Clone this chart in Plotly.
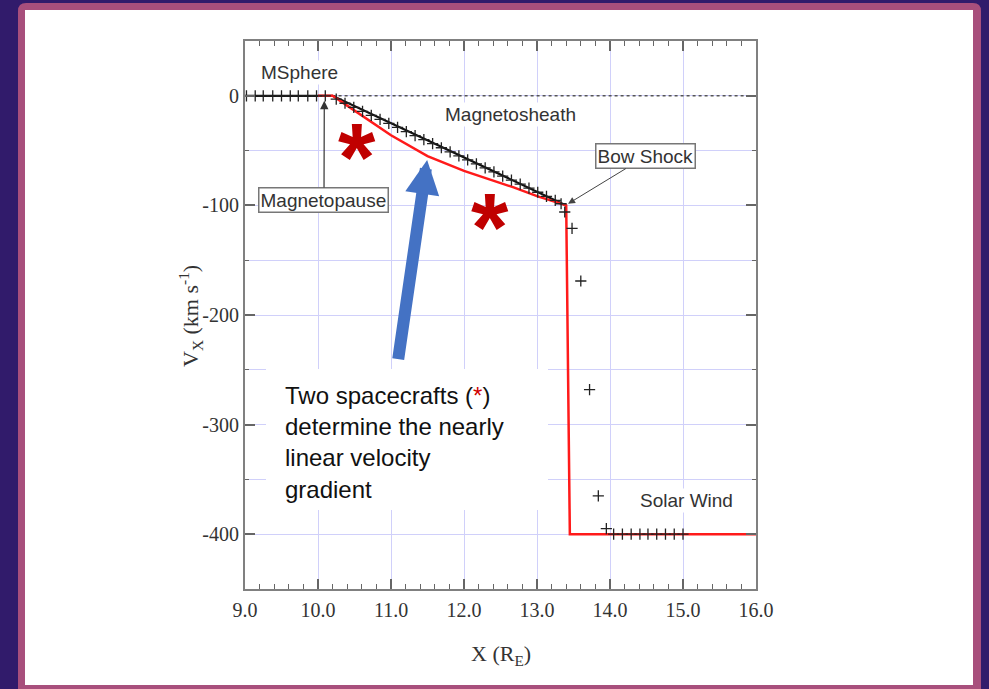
import plotly.graph_objects as go

# ---------------- data ----------------
# observed velocity samples ("+")
msphere_x = [9.02, 9.14, 9.25, 9.38, 9.50, 9.62, 9.73, 9.86, 9.98, 10.10]
msphere_v = [0, 0, 0, 0, 0, 0, 0, 0, 0, 0]

sheath_x = [10.25, 10.37, 10.49, 10.61, 10.73, 10.85, 10.97, 11.09, 11.21, 11.33,
            11.45, 11.57, 11.69, 11.81, 11.93, 12.05, 12.17, 12.29, 12.41, 12.53,
            12.65, 12.77, 12.89, 13.01, 13.13, 13.25, 13.33]
sheath_v = [-3.1, -6.8, -10.5, -14.2, -17.8, -21.5, -25.2, -28.9, -32.6, -36.3,
            -40.0, -43.7, -47.4, -51.1, -54.8, -58.5, -62.2, -65.8, -69.5, -73.2,
            -76.9, -80.6, -84.3, -88.0, -91.7, -95.4, -98.5]

shock_x = [13.38, 13.48, 13.60, 13.72, 13.84, 13.95]
shock_v = [-106, -121, -169, -268, -365, -395]

sw_x = [14.05, 14.17, 14.29, 14.41, 14.52, 14.64, 14.76, 14.88, 15.00]
sw_v = [-400, -400, -400, -400, -400, -400, -400, -400, -400]

# linear fit through the magnetosheath (black)
fit_x = [9.0, 10.2, 13.4]
fit_v = [0, 0, -100]

# model profile (red)
model_x = [10.0, 10.2, 10.4, 10.67, 11.0, 11.5, 12.0, 12.68, 13.0, 13.4, 13.45, 16.0]
model_v = [0, 0, -9, -21.3, -36, -55, -68.5, -83.6, -91.5, -100, -400, -400]

# zero reference (dotted)
zero_x = [10.2, 16.0]
zero_v = [0, 0]

# ticks
x_tick_vals = [9, 10, 11, 12, 13, 14, 15, 16]
x_tick_text = ["9.0", "10.0", "11.0", "12.0", "13.0", "14.0", "15.0", "16.0"]
y_tick_vals = [0, -100, -200, -300, -400]
y_tick_text = ["0", "-100", "-200", "-300", "-400"]

# ---------------- geometry helpers (layout only) ----------------
W, H = 989, 689
ML, MR, MT, MB = 245, 233, 41, 100
PW, PH = W - ML - MR, H - MT - MB


def px(x):
    return (x - ML) / PW


def py(y):
    return (H - MB - y) / PH


def rounded_rect(x0, y0, x1, y1, r):
    X0, X1 = px(x0), px(x1)
    Y0, Y1 = py(y0), py(y1)
    rx, ry = r / PW, r / PH
    return (f"M{X0+rx},{Y0} L{X1-rx},{Y0} Q{X1},{Y0} {X1},{Y0-ry} "
            f"L{X1},{Y1+ry} Q{X1},{Y1} {X1-rx},{Y1} L{X0+rx},{Y1} "
            f"Q{X0},{Y1} {X0},{Y1+ry} L{X0},{Y0-ry} Q{X0},{Y0} {X0+rx},{Y0} Z")


TXT = "#333333"
SANS = "Liberation Sans"
SERIF = "Liberation Serif"
GRID = "#d0d0fa"
AXIS = "#808080"

fig = go.Figure()

fig.add_trace(go.Scatter(x=zero_x, y=zero_v, mode="lines",
                         line=dict(color="#555555", width=1.5, dash="dot"),
                         hoverinfo="skip"))
fig.add_trace(go.Scatter(x=fit_x, y=fit_v, mode="lines",
                         line=dict(color="#111111", width=2.2)))
fig.add_trace(go.Scatter(x=model_x, y=model_v, mode="lines",
                         line=dict(color="#ff1a1a", width=2.5)))
for xs, vs in [(msphere_x, msphere_v), (sheath_x, sheath_v),
               (shock_x, shock_v), (sw_x, sw_v)]:
    fig.add_trace(go.Scatter(x=xs, y=vs, mode="markers",
                             marker=dict(symbol="cross-thin", size=8,
                                         line=dict(color="#222222", width=1.3))))

shapes = [
    dict(type="path", xref="paper", yref="paper", layer="below",
         path=rounded_rect(18, 3, 981, 700, 8),
         fillcolor="#a84f7c", line=dict(width=0)),
    dict(type="rect", xref="paper", yref="paper", layer="below",
         x0=px(25), x1=px(973), y0=py(685), y1=py(10),
         fillcolor="white", line=dict(width=0)),
    dict(type="rect", xref="paper", yref="paper", layer="above",
         x0=px(266), x1=px(548), y0=py(510), y1=py(369),
         fillcolor="white", line=dict(width=0)),
]

label_font = dict(family=SANS, size=19, color=TXT)
annotations = [
    dict(x=9.753, y=21.2, text="MSphere", showarrow=False, font=label_font,
         bgcolor="white"),
    dict(x=12.64, y=-17.3, text="Magnetosheath", showarrow=False, font=label_font,
         bgcolor="white"),
    dict(x=15.05, y=-369.2, text="Solar Wind", showarrow=False, font=label_font,
         bgcolor="white"),
    dict(x=10.086, y=-4.6, ax=10.082, ay=-94.8, axref="x", ayref="y",
         text="Magnetopause", showarrow=True, arrowhead=2, arrowsize=1.4,
         arrowwidth=1.2, arrowcolor="#333333", font=label_font,
         bgcolor="white", bordercolor="#777777", borderwidth=1.5, borderpad=1),
    dict(x=13.425, y=-98.5, ax=14.493, ay=-55.2, axref="x", ayref="y",
         text="Bow Shock", showarrow=True, arrowhead=2, arrowsize=1.4,
         arrowwidth=1.0, arrowcolor="#444444", font=label_font,
         bgcolor="white", bordercolor="#777777", borderwidth=1.5, borderpad=1),
    # red asterisks marking spacecraft
    dict(x=10.534, y=-45.6, text="<b>*</b>", showarrow=False, yshift=-11,
         font=dict(family=SANS, size=96, color="#c00000")),
    dict(x=12.356, y=-109.4, text="<b>*</b>", showarrow=False, yshift=-11,
         font=dict(family=SANS, size=96, color="#c00000")),
    # blue arrow
    dict(x=11.495, y=-58.5, ax=11.096, ay=-241.6, axref="x", ayref="y",
         text="", showarrow=True, arrowhead=2, arrowsize=0.57, arrowwidth=12,
         arrowcolor="#4472c4"),
    # explanation text
    dict(xref="paper", yref="paper", x=px(283), y=py(442), xanchor="left",
         yanchor="middle", align="left", showarrow=False,
         text=("Two spacecrafts (<span style='color:#d00000'>*</span>)<br>"
               "determine the nearly<br>linear velocity<br>gradient"),
         font=dict(family=SANS, size=24, color="#111111")),
    # axis titles
    dict(xref="paper", yref="paper", x=px(501), y=py(655), xanchor="center",
         yanchor="middle", showarrow=False,
         text="X (R<sub>E</sub>)", font=dict(family=SERIF, size=22, color=TXT)),
    dict(xref="paper", yref="paper", x=px(190), y=py(316), xanchor="center",
         yanchor="middle", showarrow=False,
         textangle=-90, text="V<sub>X</sub> (km s<sup>-1</sup>)",
         font=dict(family=SERIF, size=22, color=TXT)),
]

fig.update_layout(
    width=W, height=H,
    margin=dict(l=ML, r=MR, t=MT, b=MB),
    paper_bgcolor="#311b6b",
    plot_bgcolor="rgba(0,0,0,0)",
    showlegend=False,
    hovermode=False,
    shapes=shapes,
    annotations=annotations,
)

fig.update_xaxes(
    range=[9, 16], tickmode="array", tickvals=x_tick_vals, ticktext=x_tick_text,
    showgrid=True, gridcolor=GRID, gridwidth=1, zeroline=False,
    showline=True, linecolor=AXIS, linewidth=2, mirror="ticks",
    ticks="inside", ticklen=10, tickwidth=1.5, tickcolor="#666666",
    ticklabelstandoff=2,
    tickfont=dict(family=SERIF, size=20, color=TXT),
    minor=dict(tickmode="linear", tick0=9, dtick=0.2, ticks="inside", ticklen=5,
               tickwidth=1.2, tickcolor="#666666", showgrid=False),
)
fig.update_yaxes(
    range=[-450, 50], tickmode="array", tickvals=y_tick_vals, ticktext=y_tick_text,
    showgrid=True, gridcolor=GRID, gridwidth=1, zeroline=False,
    showline=True, linecolor=AXIS, linewidth=2, mirror="ticks",
    ticks="inside", ticklen=10, tickwidth=1.5, tickcolor="#666666",
    tickfont=dict(family=SERIF, size=20, color=TXT),
    minor=dict(tickmode="linear", tick0=0, dtick=50, ticks="inside", ticklen=4,
               tickwidth=1.2, tickcolor="#666666", showgrid=True,
               gridcolor=GRID, gridwidth=1),
)

fig.write_html("out.html",
               config={"displayModeBar": False},
               post_script="document.body.style.margin='0px';"
                           "document.body.style.overflow='hidden';")
